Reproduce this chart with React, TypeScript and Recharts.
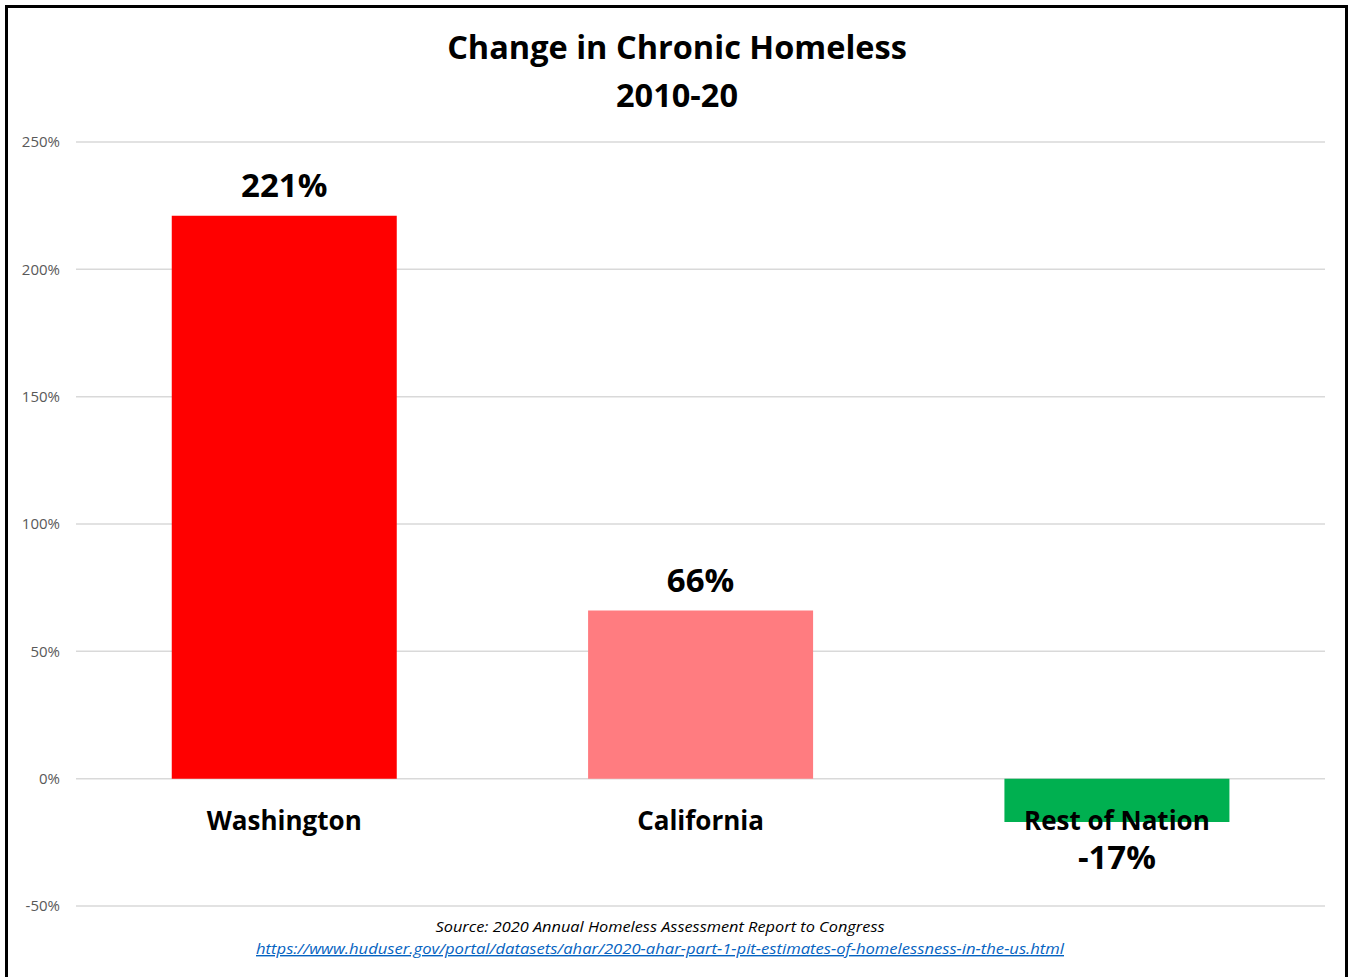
import { Bar, BarChart, CartesianGrid, Cell, LabelList, XAxis, YAxis } from 'recharts';

const regions = ['Washington', 'California', 'Rest of Nation'];
const changePct = [221, 66, -17];
const barColors = ['#FF0000', '#FF7C80', '#00B050'];
const yTicks = [-50, 0, 50, 100, 150, 200, 250];

const data = regions.map((name, i) => ({ name, value: changePct[i] }));

const FONT = "'Open Sans', 'Liberation Sans', sans-serif";

const ValueLabel = (props: any) => {
  const { x, y, width, height, value } = props;
  const top = Math.min(y, y + height);
  const bottom = Math.max(y, y + height);
  const cx = x + width / 2;
  const ty = value >= 0 ? top - 19 : bottom + 47;
  return (
    <text x={cx} y={ty} textAnchor='middle' fontFamily={FONT} fontWeight={700} fontSize={33} fill='#000'>
      {`${value}%`}
    </text>
  );
};

const CategoryLabel = (props: any) => {
  const { x, y, width, height, index } = props;
  const v = changePct[index];
  // zero line is the bar's base
  const zeroY = v >= 0 ? Math.max(y, y + height) : Math.min(y, y + height);
  return (
    <text x={x + width / 2} y={zeroY + 51} textAnchor='middle' fontFamily={FONT} fontWeight={700} fontSize={26} fill='#000'>
      {regions[index]}
    </text>
  );
};

const App = () => (
  <div style={{ position: 'absolute', left: 0, top: 0, width: 1348, height: 977, background: '#fff', overflow: 'hidden' }}>
    <div
      style={{
        position: 'absolute',
        left: 5,
        top: 5,
        width: 1337,
        height: 990,
        border: '3px solid #000',
      }}
    />
    <BarChart
      width={1348}
      height={977}
      data={data}
      margin={{ top: 142, right: 23, bottom: 71, left: 10 }}
      barCategoryGap='23%'
      style={{ position: 'absolute', left: 0, top: 0 }}
    >
      <CartesianGrid stroke='#D9D9D9' strokeWidth={1.5} vertical={false} />
      <XAxis dataKey='name' hide />
      <YAxis
        width={66}
        domain={[-50, 250]}
        ticks={yTicks}
        interval={0}
        axisLine={false}
        tickLine={false}
        tickSize={0}
        tickMargin={16}
        tickFormatter={(v: number) => `${v}%`}
        tick={{ fill: '#595959', fontSize: 15, fontFamily: FONT }}
      />
      <Bar dataKey='value' isAnimationActive={false}>
        {data.map((d, i) => (
          <Cell key={d.name} fill={barColors[i]} />
        ))}
        <LabelList dataKey='value' content={ValueLabel} />
        <LabelList dataKey='name' content={CategoryLabel} />
      </Bar>
    </BarChart>
    <svg width={1348} height={977} style={{ position: 'absolute', left: 0, top: 0, pointerEvents: 'none' }}>
      <text x={677} y={59} textAnchor='middle' fontFamily={FONT} fontWeight={700} fontSize={32.5} fill='#000'>
        Change in Chronic Homeless
      </text>
      <text x={677} y={107} textAnchor='middle' fontFamily={FONT} fontWeight={700} fontSize={32.5} fill='#000'>
        2010-20
      </text>
      <text
        x={660}
        y={932}
        textAnchor='middle'
        fontFamily={FONT}
        fontStyle='italic'
        fontSize={14}
        fill='#000'
        textLength={449}
        lengthAdjust='spacingAndGlyphs'
      >
        Source: 2020 Annual Homeless Assessment Report to Congress
      </text>
      <text
        x={660}
        y={954}
        textAnchor='middle'
        fontFamily={FONT}
        fontStyle='italic'
        fontSize={14}
        fill='#0563C1'
        textDecoration='underline'
        textLength={808}
        lengthAdjust='spacingAndGlyphs'
      >
        https://www.huduser.gov/portal/datasets/ahar/2020-ahar-part-1-pit-estimates-of-homelessness-in-the-us.html
      </text>
    </svg>
  </div>
);

export default App;
